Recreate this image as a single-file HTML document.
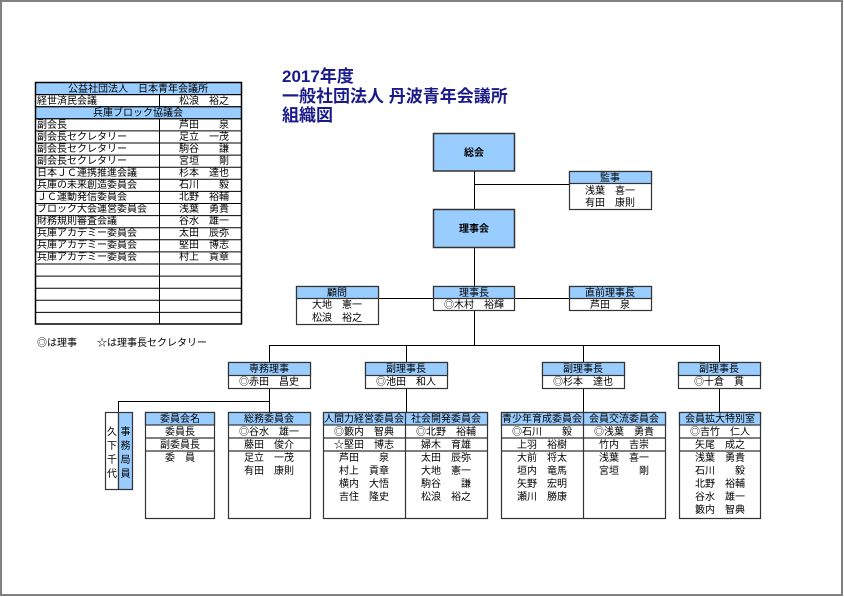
<!DOCTYPE html>
<html><head><meta charset="utf-8"><style>
html,body{margin:0;padding:0;background:#fff;}
svg{display:block;}
text{font-family:"Liberation Sans","Noto Sans CJK JP",sans-serif;font-size:10px;fill:#000;}
.t{font-size:17px;font-weight:bold;fill:#1a1a88;}
.c{text-anchor:middle;}
.b{font-weight:bold;}
</style></head><body>
<svg width="844" height="597" viewBox="0 0 844 597" xmlns="http://www.w3.org/2000/svg">
<rect x="1" y="1" width="841" height="594" fill="#fff" stroke="#808080" stroke-width="2"/>

<!-- Left table -->
<g stroke="#000" stroke-width="1">
<rect x="35.5" y="82.5" width="206" height="12.1" fill="#99ccff"/>
<rect x="35.5" y="106.7" width="206" height="12.1" fill="#99ccff"/>
<rect x="35.5" y="82.5" width="206" height="241.5" fill="none" stroke-width="1.5"/>
<line x1="35.5" y1="94.6" x2="241.5" y2="94.6"/>
<line x1="35.5" y1="106.7" x2="241.5" y2="106.7"/>
<line x1="35.5" y1="118.8" x2="241.5" y2="118.8"/>
<line x1="35.5" y1="130.9" x2="241.5" y2="130.9"/>
<line x1="35.5" y1="143" x2="241.5" y2="143"/>
<line x1="35.5" y1="155.1" x2="241.5" y2="155.1"/>
<line x1="35.5" y1="167.2" x2="241.5" y2="167.2"/>
<line x1="35.5" y1="179.3" x2="241.5" y2="179.3"/>
<line x1="35.5" y1="191.4" x2="241.5" y2="191.4"/>
<line x1="35.5" y1="203.5" x2="241.5" y2="203.5"/>
<line x1="35.5" y1="215.6" x2="241.5" y2="215.6"/>
<line x1="35.5" y1="227.7" x2="241.5" y2="227.7"/>
<line x1="35.5" y1="239.8" x2="241.5" y2="239.8"/>
<line x1="35.5" y1="251.9" x2="241.5" y2="251.9"/>
<line x1="35.5" y1="264" x2="241.5" y2="264"/>
<line x1="35.5" y1="276.1" x2="241.5" y2="276.1"/>
<line x1="35.5" y1="288.2" x2="241.5" y2="288.2"/>
<line x1="35.5" y1="300.3" x2="241.5" y2="300.3"/>
<line x1="35.5" y1="312.4" x2="241.5" y2="312.4"/>
<line x1="159.5" y1="94.6" x2="159.5" y2="106.7"/>
<line x1="159.5" y1="118.8" x2="159.5" y2="324"/>
</g>
<text class="c" x="138" y="92">公益社団法人　日本青年会議所</text>
<text x="37" y="104">経世済民会議</text><text class="c" x="204" y="104">松浪　裕之</text>
<text class="c" x="138" y="116">兵庫ブロック協議会</text>
<text x="37" y="128">副会長</text><text class="c" x="204" y="128">芦田　　泉</text>
<text x="37" y="140">副会長セクレタリー</text><text class="c" x="204" y="140">足立　一茂</text>
<text x="37" y="152">副会長セクレタリー</text><text class="c" x="204" y="152">駒谷　　謙</text>
<text x="37" y="164">副会長セクレタリー</text><text class="c" x="204" y="164">宮垣　　剛</text>
<text x="37" y="176">日本ＪＣ連携推進会議</text><text class="c" x="204" y="176">杉本　達也</text>
<text x="37" y="188">兵庫の未来創造委員会</text><text class="c" x="204" y="188">石川　　毅</text>
<text x="37" y="200">ＪＣ運動発信委員会</text><text class="c" x="204" y="200">北野　裕輔</text>
<text x="37" y="212">ブロック大会運営委員会</text><text class="c" x="204" y="212">浅葉　勇貴</text>
<text x="37" y="224">財務規則審査会議</text><text class="c" x="204" y="224">谷水　雄一</text>
<text x="37" y="236">兵庫アカデミー委員会</text><text class="c" x="204" y="236">太田　辰弥</text>
<text x="37" y="248">兵庫アカデミー委員会</text><text class="c" x="204" y="248">堅田　博志</text>
<text x="37" y="260">兵庫アカデミー委員会</text><text class="c" x="204" y="260">村上　貢章</text>

<text x="37" y="346">◎は理事　　☆は理事長セクレタリー</text>

<!-- Title -->
<text class="t" x="282" y="82">2017年度</text>
<text class="t" x="282" y="102">一般社団法人 丹波青年会議所</text>
<text class="t" x="282" y="121">組織図</text>

<!-- connectors -->
<g stroke="#000" stroke-width="1" fill="none">
<line x1="474.5" y1="171" x2="474.5" y2="209"/>
<line x1="474.5" y1="184.5" x2="570" y2="184.5"/>
<line x1="474.5" y1="248" x2="474.5" y2="286"/>
<line x1="378" y1="298.5" x2="570" y2="298.5"/>
<line x1="474.5" y1="310" x2="474.5" y2="345"/>
<line x1="269.5" y1="345.5" x2="719.5" y2="345.5"/>
<line x1="269.5" y1="345" x2="269.5" y2="362"/>
<line x1="406.5" y1="345" x2="406.5" y2="362"/>
<line x1="583.5" y1="345" x2="583.5" y2="362"/>
<line x1="719.5" y1="345" x2="719.5" y2="362"/>
<line x1="269.5" y1="388" x2="269.5" y2="412"/>
<line x1="118.5" y1="401.5" x2="269.5" y2="401.5"/>
<line x1="118.5" y1="401" x2="118.5" y2="412"/>
<line x1="406.5" y1="388" x2="406.5" y2="412"/>
<line x1="583.5" y1="388" x2="583.5" y2="412"/>
<line x1="719.5" y1="388" x2="719.5" y2="412"/>
</g>

<!-- big boxes -->
<g stroke="#333" stroke-width="1.5">
<rect x="433.5" y="133.5" width="81" height="37.5" fill="#99ccff"/>
<rect x="433.5" y="209.5" width="81" height="38" fill="#99ccff"/>
</g>
<text class="c b" x="474" y="156">総会</text>
<text class="c b" x="474" y="232">理事会</text>

<!-- small header boxes -->
<g stroke="#333" stroke-width="1.2">
<rect x="569.5" y="171.5" width="82" height="38" fill="#fff"/>
<rect x="569.5" y="171.5" width="82" height="12" fill="#99ccff"/>
<rect x="296.5" y="286.5" width="82" height="38" fill="#fff"/>
<rect x="296.5" y="286.5" width="82" height="12" fill="#99ccff"/>
<rect x="433.5" y="286.5" width="81" height="24" fill="#fff"/>
<rect x="433.5" y="286.5" width="81" height="12" fill="#99ccff"/>
<rect x="569.5" y="286.5" width="82" height="24" fill="#fff"/>
<rect x="569.5" y="286.5" width="82" height="12" fill="#99ccff"/>
<rect x="228.5" y="362.5" width="82" height="26" fill="#fff"/>
<rect x="228.5" y="362.5" width="82" height="13" fill="#99ccff"/>
<rect x="365.5" y="362.5" width="82" height="26" fill="#fff"/>
<rect x="365.5" y="362.5" width="82" height="13" fill="#99ccff"/>
<rect x="542.5" y="362.5" width="82" height="26" fill="#fff"/>
<rect x="542.5" y="362.5" width="82" height="13" fill="#99ccff"/>
<rect x="678.5" y="362.5" width="82" height="26" fill="#fff"/>
<rect x="678.5" y="362.5" width="82" height="13" fill="#99ccff"/>
</g>
<text class="c" x="610" y="181">監事</text>
<text class="c" x="610" y="194">浅葉　喜一</text>
<text class="c" x="610" y="206">有田　康則</text>
<text class="c" x="337" y="296">顧問</text>
<text class="c" x="337" y="308">大地　憲一</text>
<text class="c" x="337" y="321">松浪　裕之</text>
<text class="c" x="474" y="296">理事長</text>
<text class="c" x="474" y="308">◎木村　裕輝</text>
<text class="c" x="610" y="296">直前理事長</text>
<text class="c" x="610" y="308">芦田　泉</text>
<text class="c" x="269" y="372">専務理事</text>
<text class="c" x="269" y="385">◎赤田　昌史</text>
<text class="c" x="406" y="372">副理事長</text>
<text class="c" x="406" y="385">◎池田　和人</text>
<text class="c" x="583" y="372">副理事長</text>
<text class="c" x="583" y="385">◎杉本　達也</text>
<text class="c" x="719" y="372">副理事長</text>
<text class="c" x="719" y="385">◎十倉　貫</text>

<!-- committee boxes -->
<g stroke="#333" stroke-width="1.2">
<rect x="105.5" y="412.5" width="13" height="77" fill="#fff"/>
<rect x="118.5" y="412.5" width="14" height="77" fill="#99ccff"/>
<rect x="145.5" y="412.5" width="69" height="106" fill="#fff"/>
<rect x="145.5" y="412.5" width="69" height="12.5" fill="#99ccff"/>
<rect x="228.5" y="412.5" width="82" height="106" fill="#fff"/>
<rect x="228.5" y="412.5" width="82" height="12.5" fill="#99ccff"/>
<rect x="323.5" y="412.5" width="164" height="106" fill="#fff"/>
<rect x="323.5" y="412.5" width="164" height="12.5" fill="#99ccff"/>
<rect x="501.5" y="412.5" width="164" height="106" fill="#fff"/>
<rect x="501.5" y="412.5" width="164" height="12.5" fill="#99ccff"/>
<rect x="679.5" y="412.5" width="81" height="106" fill="#fff"/>
<rect x="679.5" y="412.5" width="81" height="12.5" fill="#99ccff"/>
<line x1="145.5" y1="438" x2="214.5" y2="438"/><line x1="145.5" y1="451" x2="214.5" y2="451"/>
<line x1="228.5" y1="438" x2="310.5" y2="438"/><line x1="228.5" y1="451" x2="310.5" y2="451"/>
<line x1="323.5" y1="438" x2="487.5" y2="438"/><line x1="323.5" y1="451" x2="487.5" y2="451"/>
<line x1="501.5" y1="438" x2="665.5" y2="438"/><line x1="501.5" y1="451" x2="665.5" y2="451"/>
<line x1="679.5" y1="438" x2="760.5" y2="438"/><line x1="679.5" y1="451" x2="760.5" y2="451"/>
<line x1="405.5" y1="412.5" x2="405.5" y2="518.5"/>
<line x1="583.5" y1="412.5" x2="583.5" y2="518.5"/>
</g>
<text class="c" x="112" y="435">久</text><text class="c" x="112" y="449">下</text><text class="c" x="112" y="463">千</text><text class="c" x="112" y="477">代</text>
<text class="c" x="125.5" y="435">事</text><text class="c" x="125.5" y="449">務</text><text class="c" x="125.5" y="463">局</text><text class="c" x="125.5" y="477">員</text>

<text class="c" x="180" y="422">委員会名</text>
<text class="c" x="180" y="435">委員長</text>
<text class="c" x="180" y="448">副委員長</text>
<text class="c" x="180" y="461">委　員</text>

<text class="c" x="269" y="422">総務委員会</text>
<text class="c" x="269" y="435">◎谷水　雄一</text>
<text class="c" x="269" y="448">藤田　俊介</text>
<text class="c" x="269" y="461">足立　一茂</text>
<text class="c" x="269" y="474">有田　康則</text>

<text class="c" x="364" y="422">人間力経営委員会</text>
<text class="c" x="364" y="435">◎籔内　智典</text>
<text class="c" x="364" y="448">☆堅田　博志</text>
<text class="c" x="364" y="461">芦田　　泉</text>
<text class="c" x="364" y="474">村上　貢章</text>
<text class="c" x="364" y="487">横内　大悟</text>
<text class="c" x="364" y="500">吉住　隆史</text>

<text class="c" x="446" y="422">社会開発委員会</text>
<text class="c" x="446" y="435">◎北野　裕輔</text>
<text class="c" x="446" y="448">婦木　育雄</text>
<text class="c" x="446" y="461">太田　辰弥</text>
<text class="c" x="446" y="474">大地　憲一</text>
<text class="c" x="446" y="487">駒谷　　謙</text>
<text class="c" x="446" y="500">松浪　裕之</text>

<text class="c" x="542" y="422">青少年育成委員会</text>
<text class="c" x="542" y="435">◎石川　　毅</text>
<text class="c" x="542" y="448">上羽　裕樹</text>
<text class="c" x="542" y="461">大前　将太</text>
<text class="c" x="542" y="474">垣内　竜馬</text>
<text class="c" x="542" y="487">矢野　宏明</text>
<text class="c" x="542" y="500">瀬川　勝康</text>

<text class="c" x="624" y="422">会員交流委員会</text>
<text class="c" x="624" y="435">◎浅葉　勇貴</text>
<text class="c" x="624" y="448">竹内　吉崇</text>
<text class="c" x="624" y="461">浅葉　喜一</text>
<text class="c" x="624" y="474">宮垣　　剛</text>

<text class="c" x="720" y="422">会員拡大特別室</text>
<text class="c" x="720" y="435">◎吉竹　仁人</text>
<text class="c" x="720" y="448">矢尾　成之</text>
<text class="c" x="720" y="461">浅葉　勇貴</text>
<text class="c" x="720" y="474">石川　　毅</text>
<text class="c" x="720" y="487">北野　裕輔</text>
<text class="c" x="720" y="500">谷水　雄一</text>
<text class="c" x="720" y="513">籔内　智典</text>
</svg>
</body></html>
